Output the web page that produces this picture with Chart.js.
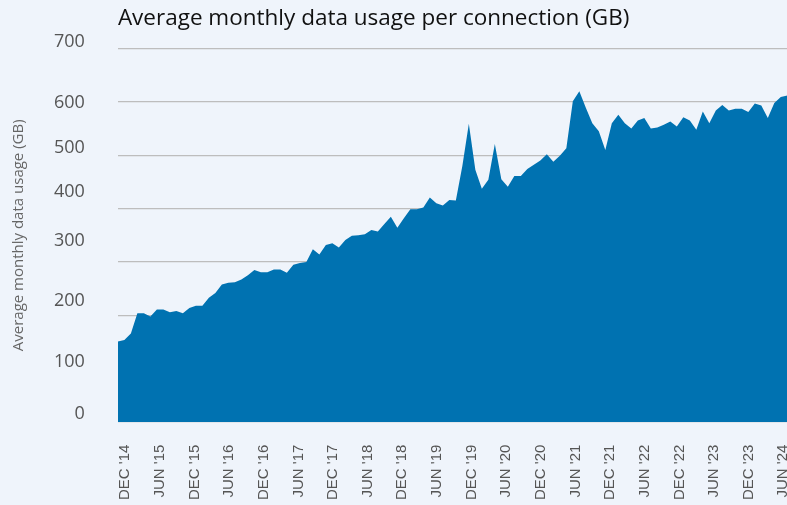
<!DOCTYPE html>
<html>
<head>
<meta charset="utf-8">
<script src="https://cdn.jsdelivr.net/npm/chart.js@4.4.1/dist/chart.umd.min.js"></script>
<style>
	html, body { margin:0; padding:0; overflow:hidden; background:#eff4fb; }
	#caja { width:812px; height:505px; position:relative; }
</style>
</head>
<body>
<div id="caja"><canvas id="canva"></canvas></div>
<script>
// valores (GB por conexion), un punto cada ~6.5px
let uso_mensual = [
	151,154,166,204,204,198,211,211,206,208,
	204,214,218,218,233,242,258,261,262,267,
	275,285,281,281,286,286,280,295,298,300,
	324,314,332,335,327,341,349,350,352,360,
	357,371,385,364,382,399,399,402,421,410,
	406,416,415,480,559,473,437,454,521,455,
	441,461,461,474,482,490,502,488,499,513,
	601,620,589,560,545,510,560,576,560,550,
	565,570,550,552,557,563,554,571,565,548,
	582,560,584,594,584,587,587,581,597,593,
	570,598,609,612
];
let etiquetas_x = [
	"DEC '14","JUN '15","DEC '15","JUN '16","DEC '16","JUN '17","DEC '17",
	"JUN '18","DEC '18","JUN '19","DEC '19","JUN '20","DEC '20","JUN '21",
	"DEC '21","JUN '22","DEC '22","JUN '23","DEC '23","JUN '24"
];
let etiquetas_y = ["700","600","500","400","300","200","100","0"];
// donde cae cada etiqueta del eje y (en unidades del eje, no van alineadas con la grilla)
let pos_etiquetas_y = [712,599,514,431,340,227,112,15];

const primer_tick = 1.12;
const paso_tick = 5.33;

const ctx = document.getElementById('canva').getContext('2d');

const grafico = new Chart(ctx, {
	type: 'line',
	data: {
		datasets: [{
			data: uso_mensual.map((v, i) => ({x: i, y: v})),
			fill: 'origin',
			backgroundColor: '#0072b1',
			borderColor: 'transparent',
			borderWidth: 0,
			pointRadius: 0,
			tension: 0
		}]
	},
	options: {
		responsive: true,
		maintainAspectRatio: false,
		animation: false,
		layout: { padding: { bottom: 2 } },
		plugins: {
			legend: { display: false },
			tooltip: { enabled: false },
			title: {
				display: true,
				text: 'Average monthly data usage per connection (GB)',
				align: 'start',
				fullSize: false,
				color: '#111',
				font: { family: 'Open Sans', size: 22.5, weight: 'normal' },
				padding: { top: 5, bottom: 16.5 }
			}
		},
		scales: {
			x: {
				type: 'linear',
				min: 0,
				max: 106.8,
				afterBuildTicks: eje => {
					eje.ticks = etiquetas_x.map((t, k) => ({ value: primer_tick + k * paso_tick }));
				},
				grid: { drawOnChartArea: false, drawTicks: true, tickLength: 19.5, tickColor: 'transparent' },
				border: { display: false },
				ticks: {
					autoSkip: false,
					minRotation: 90,
					maxRotation: 90,
					padding: 3,
					color: '#555',
					font: { family: 'Liberation Sans', size: 15 },
					callback: (v, k) => etiquetas_x[k]
				}
			},
			y: {
				min: 0,
				max: 700,
				weight: 0,
				ticks: { display: false, stepSize: 100 },
				grid: { color: '#bdbdbd', lineWidth: 1.3, drawTicks: false },
				border: { display: false }
			},
			y_etiquetas: {
				type: 'linear',
				position: 'left',
				min: 0,
				max: 700,
				weight: 1,
				afterBuildTicks: eje => {
					eje.ticks = pos_etiquetas_y.map(v => ({ value: v }));
				},
				grid: { display: false, drawTicks: false },
				border: { display: false },
				ticks: {
					autoSkip: false,
					padding: 33,
					color: '#555',
					font: { family: 'Open Sans', size: 18 },
					callback: (v, k) => etiquetas_y[k]
				},
				title: {
					display: true,
					text: 'Average monthly data usage (GB)',
					color: '#666',
					font: { family: 'Open Sans', size: 15 },
					padding: { top: 10, bottom: -7 }
				}
			}
		}
	}
});
</script>
</body>
</html>
